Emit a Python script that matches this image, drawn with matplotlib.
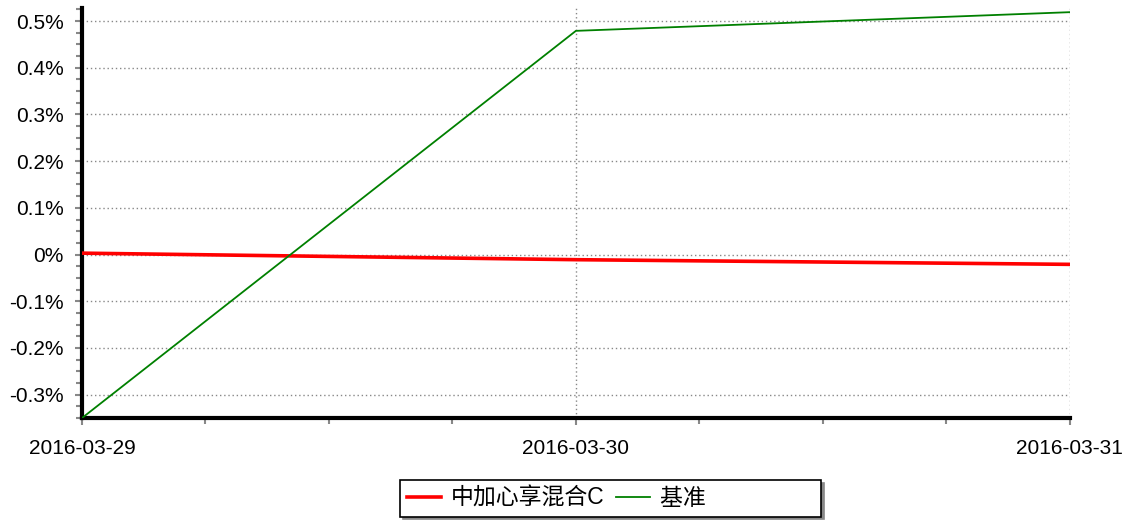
import numpy as np
import matplotlib.pyplot as plt
import matplotlib.dates as mdates
from matplotlib.ticker import FuncFormatter, MultipleLocator, AutoMinorLocator
from datetime import datetime

plt.rcParams['font.family'] = ['Liberation Sans', 'Noto Sans CJK SC', 'DejaVu Sans']

dates = ['2016-03-29', '2016-03-30', '2016-03-31']
fund = [0.003, -0.011, -0.021]      # 中加心享混合C, %
bench = [-0.350, 0.479, 0.519]      # 基准, %
names = ['中加心享混合C', '基准']

x = [datetime.strptime(d, '%Y-%m-%d') for d in dates]

fig = plt.figure(figsize=(11.25, 5.21), dpi=100)
ax = fig.add_axes([0.0729, 0.1977, 0.878, 0.787])

l1, = ax.plot(x, fund, color='#ff0000', lw=2.6, zorder=3)
l2, = ax.plot(x, bench, color='#008000', lw=1.3, zorder=3)

ax.set_xlim(x[0], x[-1])
ax.set_ylim(-0.35, 0.528)

ax.xaxis.set_major_locator(mdates.DayLocator())
ax.xaxis.set_major_formatter(mdates.DateFormatter('%Y-%m-%d'))
ax.xaxis.set_minor_locator(mdates.HourLocator(byhour=[6, 12, 18]))
ax.yaxis.set_major_locator(MultipleLocator(0.1))
ax.yaxis.set_minor_locator(AutoMinorLocator(4))
ax.yaxis.set_major_formatter(FuncFormatter(
    lambda v, p: '0%' if abs(v) < 1e-9 else '{:.1f}%'.format(v)))

ax.grid(True, which='major', color='#888888', ls=(0, (1, 2)), lw=1)
for s in ['top', 'right']:
    ax.spines[s].set_visible(False)
for s in ['left', 'bottom']:
    ax.spines[s].set_linewidth(3)
    ax.spines[s].set_color('black')

ax.tick_params(axis='both', which='major', colors='#888888', length=5,
               width=1.5, labelcolor='black', labelsize=15)
ax.tick_params(axis='both', which='minor', colors='#888888', length=4, width=1.5)
ax.tick_params(axis='x', pad=10)
ax.tick_params(axis='y', pad=8)

# legend box in the original is wider than its entries: pad the last label
labels = [names[0], names[1] + ' ' * 17]
leg = ax.legend([l1, l2], labels, loc='upper center',
                bbox_to_anchor=(0.535, -0.151), borderaxespad=0, ncol=2,
                frameon=True, fancybox=False, shadow={'color': '#888888', 'alpha': 1},
                edgecolor='black', fontsize=16.5, handlelength=1.5,
                handletextpad=0.44, columnspacing=0.48, borderpad=0.3)
leg.get_frame().set_linewidth(1.2)

fig.savefig('out.png', dpi=100)
